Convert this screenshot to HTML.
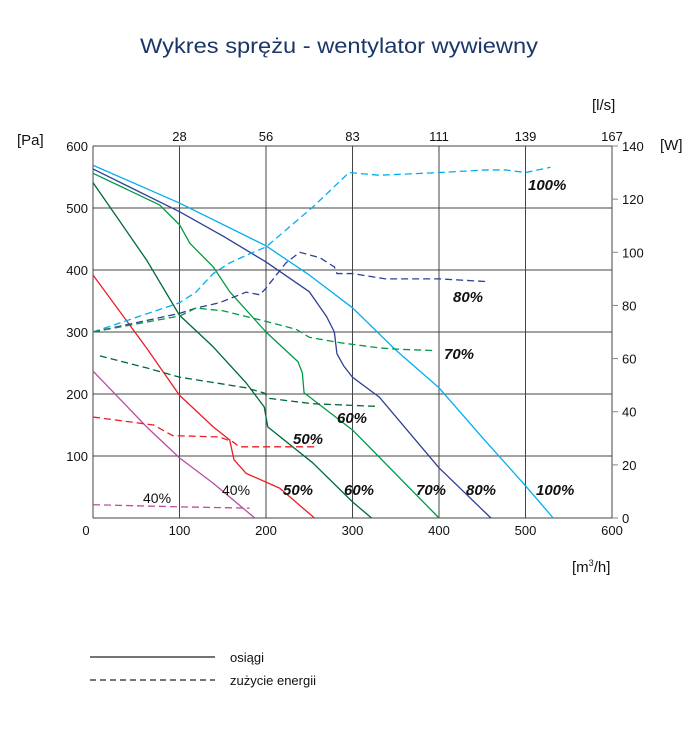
<!DOCTYPE html>
<html><head><meta charset="utf-8"><style>
html,body{margin:0;padding:0;background:#fff;}
body{width:692px;height:727px;overflow:hidden;font-family:"Liberation Sans",sans-serif;}
svg text{font-family:"Liberation Sans",sans-serif;}
</style></head><body>
<svg id="chart" width="692" height="727" viewBox="0 0 692 727" xmlns="http://www.w3.org/2000/svg">
<text x="140" y="53" font-size="21" fill="#1b3668" textLength="398" lengthAdjust="spacingAndGlyphs">Wykres sprężu - wentylator wywiewny</text>
<g id="grid"></g>
<g id="series"></g>
<g id="labels"></g>
<text x="592" y="110" font-size="15" fill="#111">[l/s]</text>
<text x="17" y="145" font-size="15" fill="#111">[Pa]</text>
<text x="660" y="150" font-size="15" fill="#111">[W]</text>
<text x="572" y="572" font-size="15" fill="#111">[m<tspan font-size="9" dy="-6">3</tspan><tspan dy="6">/h]</tspan></text>
<g>
<line x1="90" y1="657" x2="215" y2="657" stroke="#222" stroke-width="1.3"/>
<text x="230" y="662" font-size="13" fill="#111">osiągi</text>
<line x1="90" y1="680" x2="215" y2="680" stroke="#222" stroke-width="1.3" stroke-dasharray="6,4"/>
<text x="230" y="685" font-size="13" fill="#111">zużycie energii</text>
</g>
</svg>
<script>
const xTicks=[0,100,200,300,400,500,600];
const yTicks=[100,200,300,400,500,600];
const wTicks=[0,20,40,60,80,100,120,140];
const lsTicks=["28","56","83","111","139","167"];

const perf100=[[0,569],[100,508],[200,439],[250,392],[300,339],[350,271],[400,210],[450,130],[500,52],[532,0]];
const perf80=[[0,563],[100,494],[150,455],[200,413],[250,365],[270,325],[279,300],[282,265],[290,245],[300,227],[331,195],[400,81],[460,0]];
const perf70=[[0,556],[77,505],[100,473],[112,443],[139,405],[158,365],[200,300],[237,252],[242,234],[244,202],[300,142],[400,0]];
const perf60=[[0,541],[62,416],[100,327],[139,276],[177,218],[198,179],[202,147],[254,89],[300,26],[322,0]];
const perf50=[[0,392],[62,274],[100,198],[139,147],[158,126],[163,94],[177,72],[216,48],[256,0]];
const perf40=[[0,237],[62,147],[100,97],[139,56],[187,0]];

const pow100=[[0,70],[100,81],[119,85],[139,92],[158,96],[185,100],[200,102],[254,117],[296,130],[331,129],[400,130],[454,131],[477,131],[500,130],[529,132]];
const pow80=[[0,70],[100,77],[119,79],[146,81],[177,85],[193,84],[200,86.5],[223,96],[239,100],[262,98],[279,94.5],[282,92],[300,92],[338,90],[400,90],[454,89]];
const pow70=[[0,70],[100,76],[119,79],[150,78],[200,74],[235,71],[250,68],[285,66],[331,64],[354,63.5],[396,63]];
const pow60=[[8,61],[62,56.5],[100,53],[139,51],[177,49],[198,47],[204,45],[254,43],[329,42]];
const pow50=[[0,38],[70,35],[92,31],[146,30.5],[162,28.6],[169,26.8],[256,26.8]];
const pow40=[[0,5],[100,4.2],[181,3.7]];

const seriesNames=["100","80","70","60","50","40"];
const seriesColors=["#00aeef","#2e3f94","#009a44","#006837","#ed1c24","#b5509d"];

const X=v=>93+v*(612-93)/600;
const Y=p=>518-p*(518-146)/600;
const YW=w=>518-w*(518-146)/140;
const NS="http://www.w3.org/2000/svg";
function mk(tag,attrs,parent){const e=document.createElementNS(NS,tag);for(const k in attrs)e.setAttribute(k,attrs[k]);parent.appendChild(e);return e;}
const grid=document.getElementById('grid');
const ser=document.getElementById('series');
const lab=document.getElementById('labels');

xTicks.forEach((v,i)=>{
  const l=mk('line',{x1:X(v),y1:146,x2:X(v),y2:518,stroke:'#444','stroke-width':1},grid);
  
  
  if(i>0){
    const t=mk('text',{x:X(v),y:535,'text-anchor':'middle','font-size':13,fill:'#111'},grid);
    t.textContent=v;
    
    
    const t2=mk('text',{x:X(v),y:141,'text-anchor':'middle','font-size':13,fill:'#111'},grid);
    t2.textContent=lsTicks[i-1];
    
    
  }
});
yTicks.forEach(p=>{
  const l=mk('line',{x1:93,y1:Y(p),x2:612,y2:Y(p),stroke:'#444','stroke-width':1},grid);
  
  
  const t=mk('text',{x:88,y:Y(p)+5,'text-anchor':'end','font-size':13,fill:'#111'},grid);
  t.textContent=p;
  
  
});
{
  const l=mk('line',{x1:93,y1:518,x2:612,y2:518,stroke:'#444','stroke-width':1},grid);
  
  
  const z=mk('text',{x:86,y:535,'text-anchor':'middle','font-size':13,fill:'#111'},grid);
  z.textContent='0';
  
  
}
wTicks.forEach(w=>{
  const l=mk('line',{x1:612,y1:YW(w),x2:618,y2:YW(w),stroke:'#888','stroke-width':1},grid);
  
  
  const t=mk('text',{x:622,y:YW(w)+5,'font-size':13,fill:'#111'},grid);
  t.textContent=w;
  
  
});

const perfs=[perf100,perf80,perf70,perf60,perf50,perf40];
const pows=[pow100,pow80,pow70,pow60,pow50,pow40];
perfs.forEach((d,i)=>{
  const p=mk('polyline',{points:d.map(q=>X(q[0])+','+Y(q[1])).join(' '),fill:'none',stroke:seriesColors[i],'stroke-width':1.3,'stroke-linejoin':'round'},ser);
  
  
});
pows.forEach((d,i)=>{
  const p=mk('polyline',{points:d.map(q=>X(q[0])+','+YW(q[1])).join(' '),fill:'none',stroke:seriesColors[i],'stroke-width':1.3,'stroke-dasharray':'7,4'},ser);
  
  
});

const labelTexts=["100%","80%","70%","60%","50%","40%","50%","60%","70%","80%","100%","40%"];
const labelPos=[[528,190],[453,302],[444,359],[337,423],[293,444],[222,495],[283,495],[344,495],[416,495],[466,495],[536,495],[143,503]];
labelTexts.forEach((s,i)=>{
  const plain=(s==="40%");
  const t=mk('text',{x:labelPos[i][0],y:labelPos[i][1],'font-size':plain?14:15,'font-weight':plain?'normal':'bold','font-style':plain?'normal':'italic',fill:'#111'},lab);
  t.textContent=s;
  
  
});
</script>
</body></html>
